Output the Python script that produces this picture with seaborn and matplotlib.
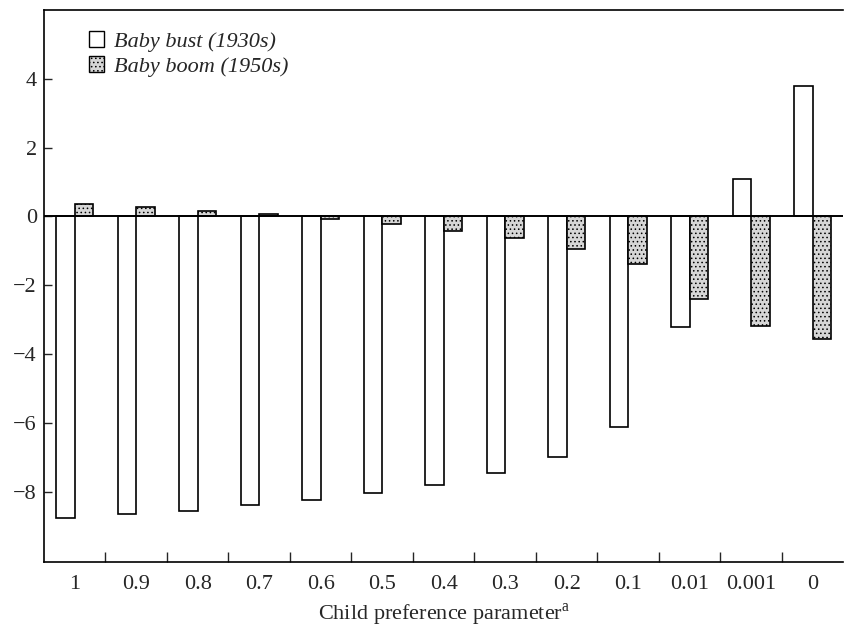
import matplotlib
matplotlib.use("Agg")
import matplotlib.pyplot as plt
import seaborn as sns
import pandas as pd
from matplotlib.patches import Patch
from matplotlib.ticker import FixedLocator

categories = ["1", "0.9", "0.8", "0.7", "0.6", "0.5", "0.4", "0.3", "0.2", "0.1", "0.01", "0.001", "0"]
baby_bust = [-8.77, -8.65, -8.55, -8.40, -8.23, -8.05, -7.80, -7.47, -6.98, -6.13, -3.22, 1.08, 3.80]
baby_boom = [0.37, 0.28, 0.17, 0.06, -0.08, -0.23, -0.42, -0.63, -0.95, -1.37, -2.39, -3.17, -3.56]
series_names = ["Baby bust (1930s)", "Baby boom (1950s)"]
yticks = [4, 2, 0, -2, -4, -6, -8]

df = pd.DataFrame({
    "param": categories * 2,
    "value": baby_bust + baby_boom,
    "series": [series_names[0]] * len(categories) + [series_names[1]] * len(categories),
})

sns.set_style("white")
plt.rcParams["font.family"] = ["Liberation Serif", "DejaVu Serif"]
plt.rcParams["hatch.color"] = "#9a9a9a"
plt.rcParams["hatch.linewidth"] = 0.6

fig = plt.figure(figsize=(8.45, 6.31), dpi=100)
ax = fig.add_axes([0.052, 0.109, 0.946, 0.875])

colors = {series_names[0]: "#ffffff", series_names[1]: "#d6d6d6"}
sns.barplot(data=df, x="param", y="value", hue="series", order=categories,
            hue_order=series_names, palette=colors, width=0.6, gap=0,
            edgecolor="black", linewidth=1.2, ax=ax, legend=False, saturation=1)

for bar in ax.patches:
    if abs(bar.get_facecolor()[0] - 1.0) > 0.01:
        bar.set_hatch("....")

ax.axhline(0, color="black", linewidth=1.4, zorder=5)

ax.set_xlim(-0.5, 12.5)
ax.set_ylim(-10.05, 6.0)
ax.set_yticks(yticks)
ax.set_yticklabels([str(t).replace("-", "\u2212") if t < 0 else str(t) for t in yticks])
ax.tick_params(axis="y", direction="in", length=6, width=1, labelsize=16, pad=5, left=True)
ax.tick_params(axis="x", which="major", length=0, labelsize=16, pad=9)
ax.xaxis.set_minor_locator(FixedLocator([i + 0.5 for i in range(12)]))
ax.tick_params(axis="x", which="minor", direction="in", length=7, width=1, bottom=True)

ax.set_xlabel("Child preference parameter$^{\\mathregular{a}}$", fontsize=16, labelpad=6)
ax.set_ylabel("")

for side in ["left", "bottom", "top"]:
    ax.spines[side].set_visible(True)
    ax.spines[side].set_color("black")
    ax.spines[side].set_linewidth(1.2)
ax.spines["right"].set_visible(False)

handles = [Patch(facecolor=colors[s], edgecolor="black", linewidth=1.0,
                 hatch=("...." if i == 1 else None)) for i, s in enumerate(series_names)]
leg = ax.legend(handles, series_names, loc="upper left", bbox_to_anchor=(0.056, 0.962),
                frameon=False, prop={"style": "italic", "size": 16},
                borderaxespad=0, borderpad=0,
                handlelength=0.7, handleheight=0.7, handletextpad=0.45, labelspacing=0.2)

fig.savefig("out.png", dpi=100)
